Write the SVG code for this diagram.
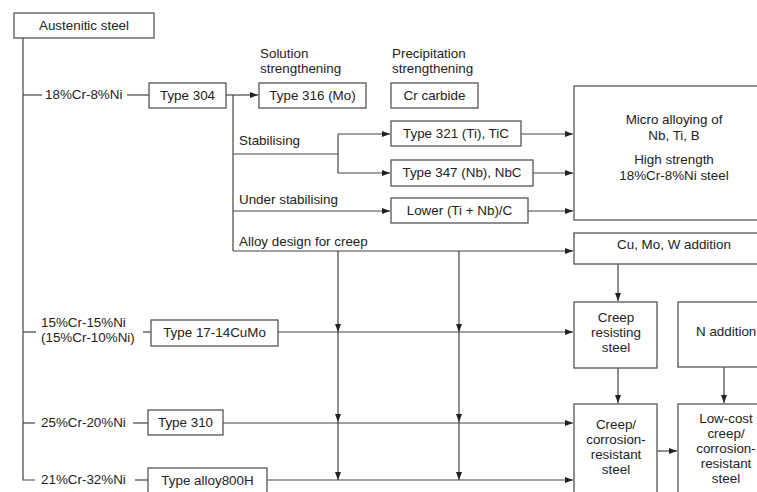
<svg xmlns="http://www.w3.org/2000/svg" width="757" height="492" viewBox="0 0 757 492">
<style>
text{font-family:"Liberation Sans",Arial,sans-serif;font-size:13.4px;fill:#222}
.c{text-anchor:middle}
.box{fill:#fff;stroke:#555;stroke-width:1.3}
.ln{fill:none;stroke:#444;stroke-width:1.2}
</style>
<defs>
<marker id="ah" markerWidth="8" markerHeight="6" refX="8" refY="3" orient="auto" markerUnits="userSpaceOnUse">
<path d="M0,0 L8,3 L0,6 Z" fill="#222"/>
</marker>
</defs>
<rect width="757" height="492" fill="#fff"/>
<g id="connectors">
<path class="ln" d="M23,38 V480 H35"/>
<path class="ln" d="M23,95 H42"/>
<path class="ln" d="M127,95 H149"/>
<path class="ln" d="M226,95 H258" marker-end="url(#ah)"/>
<path class="ln" d="M233,95 V251"/>
<path class="ln" d="M233,154 H338"/>
<path class="ln" d="M338,134 V173"/>
<path class="ln" d="M338,134 H390" marker-end="url(#ah)"/>
<path class="ln" d="M338,173 H390" marker-end="url(#ah)"/>
<path class="ln" d="M233,211 H390" marker-end="url(#ah)"/>
<path class="ln" d="M521,134 H573" marker-end="url(#ah)"/>
<path class="ln" d="M533,173 H573" marker-end="url(#ah)"/>
<path class="ln" d="M528,211 H573" marker-end="url(#ah)"/>
<path class="ln" d="M233,251 H573" marker-end="url(#ah)"/>
<path class="ln" d="M338,251 V332" marker-end="url(#ah)"/>
<path class="ln" d="M338,332 V422" marker-end="url(#ah)"/>
<path class="ln" d="M338,422 V480" marker-end="url(#ah)"/>
<path class="ln" d="M459,251 V332" marker-end="url(#ah)"/>
<path class="ln" d="M459,332 V422" marker-end="url(#ah)"/>
<path class="ln" d="M459,422 V480" marker-end="url(#ah)"/>
<path class="ln" d="M23,332 H36"/>
<path class="ln" d="M143,332 H151"/>
<path class="ln" d="M278,332 H573" marker-end="url(#ah)"/>
<path class="ln" d="M23,423 H35"/>
<path class="ln" d="M133,423 H148"/>
<path class="ln" d="M223,423 H573" marker-end="url(#ah)"/>
<path class="ln" d="M135,480 H148"/>
<path class="ln" d="M267,480 H573" marker-end="url(#ah)"/>
<path class="ln" d="M618,264 V301" marker-end="url(#ah)"/>
<path class="ln" d="M618,368 V403" marker-end="url(#ah)"/>
<path class="ln" d="M724,367 V403" marker-end="url(#ah)"/>
<path class="ln" d="M657,451 H677" marker-end="url(#ah)"/>
</g>
<g id="austenitic"><rect class="box" x="14" y="13" width="140" height="25"/><text class="c" x="84" y="30">Austenitic steel</text></g>
<g id="lbl-18-8"><text x="45" y="99">18%Cr-8%Ni</text></g>
<g id="type304"><rect class="box" x="149" y="83" width="77" height="25"/><text class="c" x="187.5" y="100">Type 304</text></g>
<g id="solution"><text x="260" y="58">Solution</text><text x="260" y="73">strengthening</text></g>
<g id="precip"><text x="392" y="58">Precipitation</text><text x="392" y="73">strengthening</text></g>
<g id="type316"><rect class="box" x="259" y="83" width="107" height="25"/><text class="c" x="312.5" y="100">Type 316 (Mo)</text></g>
<g id="crcarbide"><rect class="box" x="391" y="83" width="87" height="25"/><text class="c" x="434.5" y="100">Cr carbide</text></g>
<g id="stab"><text x="239" y="145">Stabilising</text></g>
<g id="understab"><text x="239" y="204">Under stabilising</text></g>
<g id="alloydesign"><text x="239" y="246">Alloy design for creep</text></g>
<g id="type321"><rect class="box" x="391" y="121" width="130" height="25"/><text class="c" x="456" y="138">Type 321 (Ti), TiC</text></g>
<g id="type347"><rect class="box" x="391" y="160" width="142" height="26"/><text class="c" x="462" y="177">Type 347 (Nb), NbC</text></g>
<g id="lower"><rect class="box" x="391" y="198" width="137" height="25"/><text class="c" x="459.5" y="215">Lower (Ti + Nb)/C</text></g>
<g id="micro"><rect class="box" x="574" y="86" width="200" height="134"/><text class="c" x="674" y="124">Micro alloying of</text><text class="c" x="674" y="140">Nb, Ti, B</text><text class="c" x="674" y="164">High strength</text><text class="c" x="674" y="180">18%Cr-8%Ni steel</text></g>
<g id="cumow"><rect class="box" x="574" y="233" width="200" height="31"/><text class="c" x="674" y="249">Cu, Mo, W addition</text></g>
<g id="lbl-15-15"><text x="41" y="327">15%Cr-15%Ni</text><text x="41" y="342">(15%Cr-10%Ni)</text></g>
<g id="type1714"><rect class="box" x="151" y="320" width="127" height="26"/><text class="c" x="214.5" y="337">Type 17-14CuMo</text></g>
<g id="creepres"><rect class="box" x="574" y="302" width="83" height="66"/><text class="c" x="616" y="322">Creep</text><text class="c" x="616" y="337">resisting</text><text class="c" x="616" y="352">steel</text></g>
<g id="naddition"><rect class="box" x="678" y="302" width="100" height="65"/><text x="696" y="336">N addition</text></g>
<g id="lbl-25-20"><text x="41" y="427">25%Cr-20%Ni</text></g>
<g id="type310"><rect class="box" x="148" y="410" width="75" height="25"/><text class="c" x="185.5" y="427">Type 310</text></g>
<g id="creepcorr"><rect class="box" x="574" y="404" width="83" height="100"/><text class="c" x="616" y="429">Creep/</text><text class="c" x="616" y="444">corrosion-</text><text class="c" x="616" y="459">resistant</text><text class="c" x="616" y="474">steel</text></g>
<g id="lowcost"><rect class="box" x="678" y="404" width="100" height="100"/><text class="c" x="726" y="423">Low-cost</text><text class="c" x="726" y="438">creep/</text><text class="c" x="726" y="453">corrosion-</text><text class="c" x="726" y="468">resistant</text><text class="c" x="726" y="483">steel</text></g>
<g id="lbl-21-32"><text x="41" y="484">21%Cr-32%Ni</text></g>
<g id="type800h"><rect class="box" x="148" y="468" width="119" height="40"/><text class="c" x="207.5" y="485">Type alloy800H</text></g>
</svg>
